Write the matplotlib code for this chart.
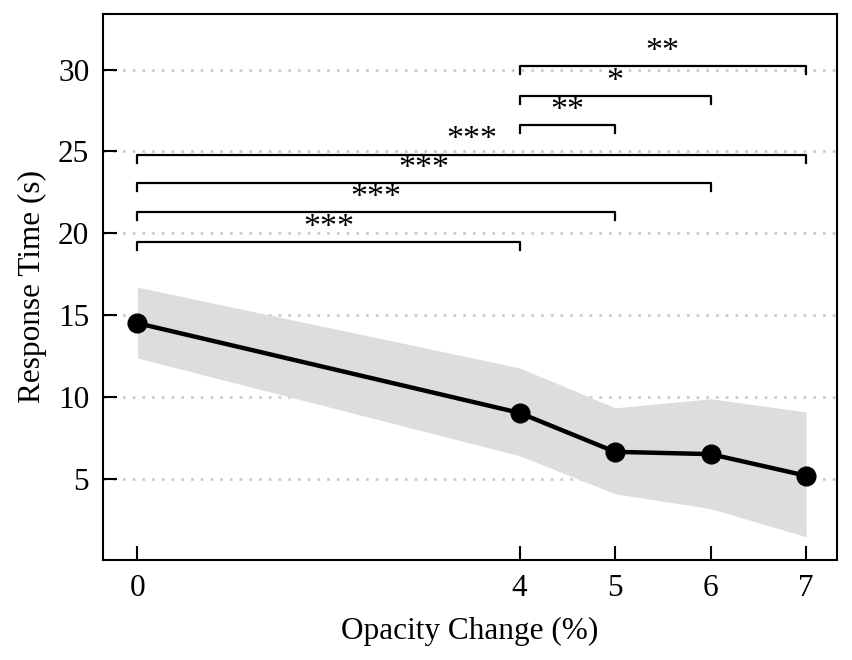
import matplotlib
matplotlib.use("Agg")
import matplotlib.pyplot as plt

# Data
opacity = [0, 4, 5, 6, 7]
mean_time = [14.5, 9.02, 6.64, 6.5, 5.18]
upper = [16.7, 11.77, 9.33, 9.88, 9.08]
lower = [12.37, 6.4, 4.08, 3.17, 1.45]

# Significance brackets: (start, end, height, label)
pairs = [(0, 4), (0, 5), (0, 6), (0, 7), (4, 5), (4, 6), (4, 7)]
bar_heights = [19.45, 21.28, 23.06, 24.8, 26.6, 28.4, 30.2]
stars = ["***", "***", "***", "***", "**", "*", "**"]

plt.rcParams["font.family"] = ["Liberation Serif", "DejaVu Serif"]

fig, ax = plt.subplots(figsize=(8.52, 6.6), dpi=100)
fig.subplots_adjust(left=0.121, right=0.982, top=0.979, bottom=0.152)

# Grey band and mean line
ax.fill_between(opacity, lower, upper, color="#dddddd", linewidth=0, zorder=1)
ax.plot(opacity, mean_time, color="black", lw=3.2, marker="o", markersize=13.5, zorder=3)

# Brackets
tick_h = 0.5
for (x0, x1), h, s in zip(pairs, bar_heights, stars):
    ax.plot([x0, x0, x1, x1], [h - tick_h, h, h, h - tick_h], color="black", lw=1.6, zorder=2)
    ax.text((x0 + x1) / 2, h - 0.05, s, ha="center", va="bottom", fontsize=24.5)

ax.set_xlim(-0.36, 7.32)
ax.set_ylim(0.05, 33.4)
ax.set_xticks(opacity)
ax.set_yticks([5, 10, 15, 20, 25, 30])
ax.yaxis.grid(True, linestyle=(0, (1, 2.5)), color="#cccccc", lw=2, zorder=0)
ax.set_axisbelow(True)

ax.tick_params(direction="in", length=10, width=1.5, labelsize=22.5, pad=10)
for sp in ax.spines.values():
    sp.set_linewidth(1.5)

ax.set_xlabel("Opacity Change (%)", fontsize=22.5, labelpad=10)
ax.set_ylabel("Response Time (s)", fontsize=22.5, labelpad=8)

fig.savefig("out.png", dpi=100)
